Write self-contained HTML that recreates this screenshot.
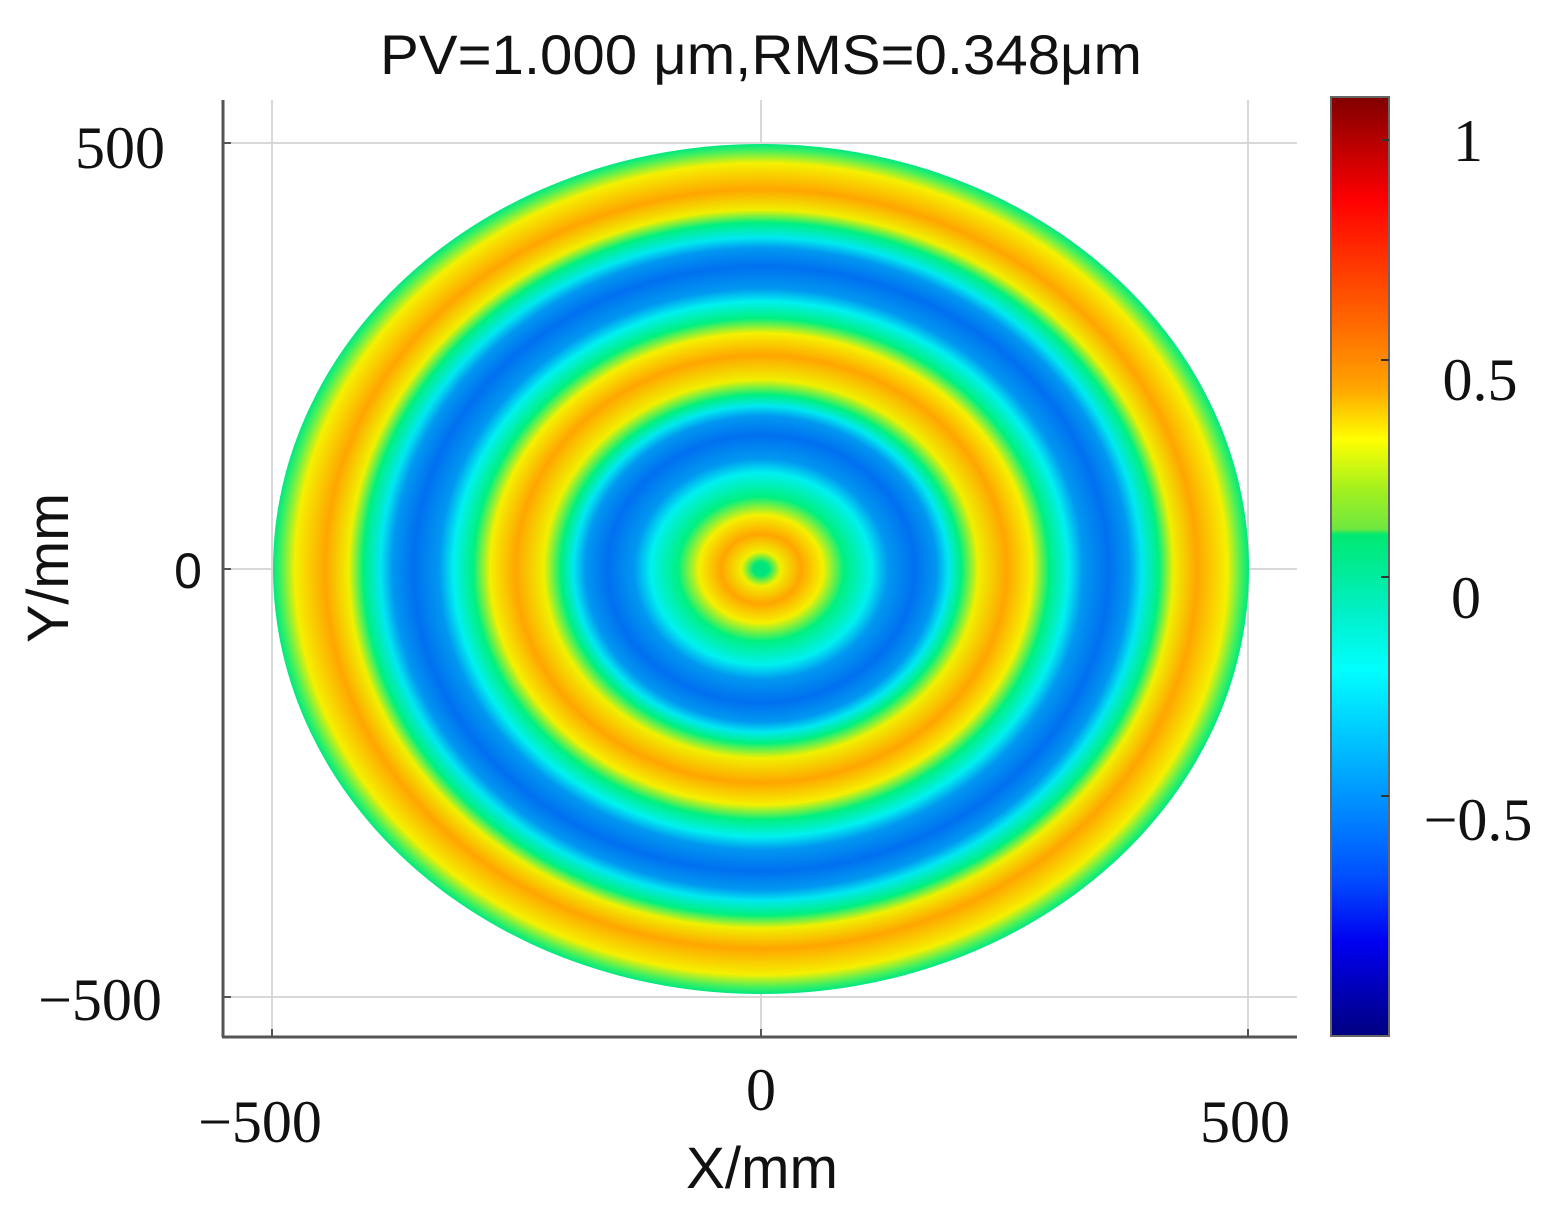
<!DOCTYPE html>
<html><head><meta charset="utf-8"><style>html,body{margin:0;padding:0;background:#fff}svg{display:block}</style></head>
<body>
<svg width="1563" height="1220" viewBox="0 0 1563 1220" xmlns="http://www.w3.org/2000/svg">
<defs>
<radialGradient id="rg" cx="0.5" cy="0.5" r="0.5">
<stop offset="0" stop-color="#00e080"/>
<stop offset="0.016" stop-color="#00e878"/>
<stop offset="0.04" stop-color="#f0f000"/>
<stop offset="0.082" stop-color="#ffa500"/>
<stop offset="0.127" stop-color="#f5f000"/>
<stop offset="0.17" stop-color="#00f080"/>
<stop offset="0.226" stop-color="#00f0f0"/>
<stop offset="0.26" stop-color="#0098f0"/>
<stop offset="0.315" stop-color="#0070f0"/>
<stop offset="0.36" stop-color="#0098f0"/>
<stop offset="0.384" stop-color="#00e8f0"/>
<stop offset="0.41" stop-color="#00f080"/>
<stop offset="0.445" stop-color="#f0f000"/>
<stop offset="0.503" stop-color="#ffa500"/>
<stop offset="0.555" stop-color="#f5f000"/>
<stop offset="0.59" stop-color="#00f080"/>
<stop offset="0.63" stop-color="#00f0f0"/>
<stop offset="0.66" stop-color="#0098f0"/>
<stop offset="0.712" stop-color="#0070f0"/>
<stop offset="0.755" stop-color="#0098f0"/>
<stop offset="0.78" stop-color="#00e8f0"/>
<stop offset="0.815" stop-color="#00f080"/>
<stop offset="0.845" stop-color="#f0f000"/>
<stop offset="0.893" stop-color="#ffa500"/>
<stop offset="0.955" stop-color="#f5f000"/>
<stop offset="0.985" stop-color="#40f060"/>
<stop offset="1" stop-color="#00e880"/>
</radialGradient>
<linearGradient id="cb" x1="0" y1="0" x2="0" y2="1">
<stop offset="0" stop-color="#800000"/>
<stop offset="0.11" stop-color="#ff0000"/>
<stop offset="0.25" stop-color="#ff7000"/>
<stop offset="0.31" stop-color="#ffa500"/>
<stop offset="0.365" stop-color="#ffff00"/>
<stop offset="0.42" stop-color="#a0f020"/>
<stop offset="0.46" stop-color="#70e840"/>
<stop offset="0.466" stop-color="#00e870"/>
<stop offset="0.55" stop-color="#00f0c8"/>
<stop offset="0.61" stop-color="#00ffff"/>
<stop offset="0.72" stop-color="#00a8ff"/>
<stop offset="0.83" stop-color="#0050ff"/>
<stop offset="0.9" stop-color="#0000f0"/>
<stop offset="1" stop-color="#000080"/>
</linearGradient>
</defs>
<g stroke="#d8d8d8" stroke-width="2">
<line x1="272" y1="100" x2="272" y2="1036"/>
<line x1="761" y1="100" x2="761" y2="1036"/>
<line x1="1248" y1="100" x2="1248" y2="1036"/>
<line x1="224" y1="143" x2="1297" y2="143"/>
<line x1="224" y1="569" x2="1297" y2="569"/>
<line x1="224" y1="997" x2="1297" y2="997"/>
</g>
<ellipse cx="761" cy="569" rx="488" ry="425" fill="url(#rg)"/>
<g stroke="#555" stroke-width="3">
<line x1="223" y1="100" x2="223" y2="1037"/>
<line x1="222" y1="1037" x2="1297" y2="1037"/>
</g>
<g stroke="#555" stroke-width="2">
<line x1="223" y1="143" x2="231" y2="143"/><line x1="223" y1="569" x2="231" y2="569"/><line x1="223" y1="997" x2="231" y2="997"/>
<line x1="272" y1="1037" x2="272" y2="1029"/><line x1="761" y1="1037" x2="761" y2="1029"/><line x1="1248" y1="1037" x2="1248" y2="1029"/>
</g>
<rect x="1331" y="97" width="58" height="939" fill="url(#cb)" stroke="#666" stroke-width="2"/>
<g stroke="#333" stroke-width="2">
<line x1="1389" y1="140" x2="1381" y2="140"/><line x1="1389" y1="360" x2="1381" y2="360"/><line x1="1389" y1="577" x2="1381" y2="577"/><line x1="1389" y1="796" x2="1381" y2="796"/>
</g>
<text x="761" y="74" font-family="Liberation Sans, sans-serif" font-size="56" text-anchor="middle" textLength="762" lengthAdjust="spacingAndGlyphs" fill="#111">PV=1.000 μm,RMS=0.348μm</text>
<g font-family="Liberation Serif, serif" font-size="60" fill="#111">
<text x="120" y="168" text-anchor="middle">500</text>
<text x="100" y="1020" text-anchor="middle">−500</text>
<text x="260" y="1142" text-anchor="middle">−500</text>
<text x="761" y="1110" text-anchor="middle">0</text>
<text x="1245" y="1142" text-anchor="middle">500</text>
<text x="1468" y="161" text-anchor="middle">1</text>
<text x="1480" y="400" text-anchor="middle">0.5</text>
<text x="1466" y="618" text-anchor="middle">0</text>
<text x="1478" y="840" text-anchor="middle">−0.5</text>
</g>
<text x="188" y="588" font-family="Liberation Sans, sans-serif" font-size="50" text-anchor="middle" fill="#111">0</text>
<text x="762" y="1188" font-family="Liberation Sans, sans-serif" font-size="58" text-anchor="middle" textLength="152" lengthAdjust="spacingAndGlyphs" fill="#111">X/mm</text>
<text transform="translate(68,568) rotate(-90)" font-family="Liberation Sans, sans-serif" font-size="58" text-anchor="middle" textLength="150" lengthAdjust="spacingAndGlyphs" fill="#111">Y/mm</text>
</svg>
</body></html>
